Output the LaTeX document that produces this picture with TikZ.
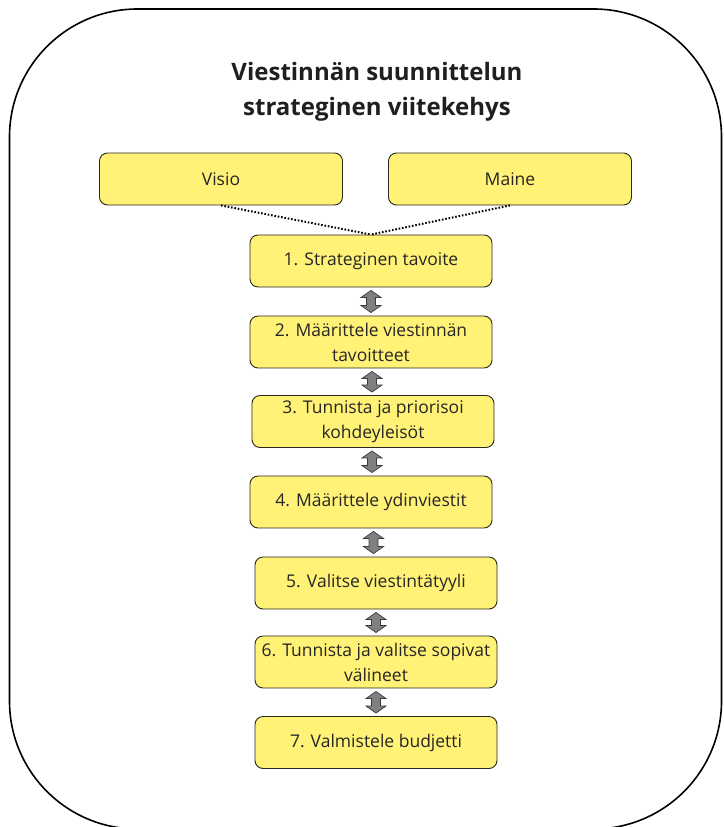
\documentclass[tikz,border=0pt]{standalone}
\usepackage{fontspec}
\setmainfont{Open Sans}
\usetikzlibrary{calc}

\definecolor{boxyellow}{RGB}{255,242,118}
\definecolor{boxedge}{RGB}{40,40,30}
\definecolor{arrowgray}{RGB}{128,128,128}
\definecolor{arrowedge}{RGB}{60,60,60}

\tikzset{
  frame/.style={draw=black, line width=1.6pt, rounded corners=128pt},
  stepbox/.style={draw=boxedge, line width=0.9pt, fill=boxyellow, rounded corners=8pt,
    minimum width=242pt, minimum height=52pt, align=center, inner sep=2pt,
    font=\fontsize{17.5}{25}\selectfont, text=black!85},
  topbox/.style={stepbox, minimum width=243pt},
  title/.style={align=center, font=\fontsize{24}{35}\selectfont\bfseries, text=black!88},
  link/.style={draw=black, line width=2pt, dash pattern=on 1.6pt off 1.8pt},
  twoway/.style={fill=arrowgray, draw=arrowedge, line width=0.7pt, line join=miter}
}

% double-headed block arrow between the bottom of #1 and the top of #2
\newcommand\twowayarrow[2]{%
  \draw[twoway] let \p1=($(#1.south)!0.5!(#2.north)$),
      \p2=($(#1.south)+(0,-3pt)$), \p3=($(#2.north)+(0,3pt)$) in
    (\x1,\y2) -- (\x1+10pt,\y2-7pt) -- (\x1+4.5pt,\y2-7pt) -- (\x1+4.5pt,\y3+7pt)
    -- (\x1+10pt,\y3+7pt) -- (\x1,\y3) -- (\x1-10pt,\y3+7pt) -- (\x1-4.5pt,\y3+7pt)
    -- (\x1-4.5pt,\y2-7pt) -- (\x1-10pt,\y2-7pt) -- cycle;}

\begin{document}
\begin{tikzpicture}[x=1pt, y=-1pt]
  \useasboundingbox (0,0) rectangle (723,827);

  % outer frame
  \draw[frame] (9.5,9) rectangle (721.5,829);

  % heading
  \node[title] (head) at (377,92) {Viestinnän suunnittelun\\strateginen viitekehys};

  % top boxes
  \node[topbox] (visio) at (221,179) {Visio};
  \node[topbox] (maine) at (510,179) {Maine};

  % steps
  \node[stepbox] (s1) at (371,261) {1. Strateginen tavoite};
  \node[stepbox] (s2) at (371,342) {2. Määrittele viestinnän\\tavoitteet};
  \node[stepbox] (s3) at (373,421.5) {3. Tunnista ja priorisoi\\kohdeyleisöt};
  \node[stepbox] (s4) at (371,502) {4. Määrittele ydinviestit};
  \node[stepbox] (s5) at (376,583) {5. Valitse viestintätyyli};
  \node[stepbox] (s6) at (376,662) {6. Tunnista ja valitse sopivat\\välineet};
  \node[stepbox] (s7) at (376,742.5) {7. Valmistele budjetti};

  % dotted links from the top boxes
  \draw[link] (visio.south) -- (s1.north);
  \draw[link] (maine.south) -- (s1.north);

  % arrows between steps
  \twowayarrow{s1}{s2}
  \twowayarrow{s2}{s3}
  \twowayarrow{s3}{s4}
  \twowayarrow{s4}{s5}
  \twowayarrow{s5}{s6}
  \twowayarrow{s6}{s7}
\end{tikzpicture}
\end{document}
